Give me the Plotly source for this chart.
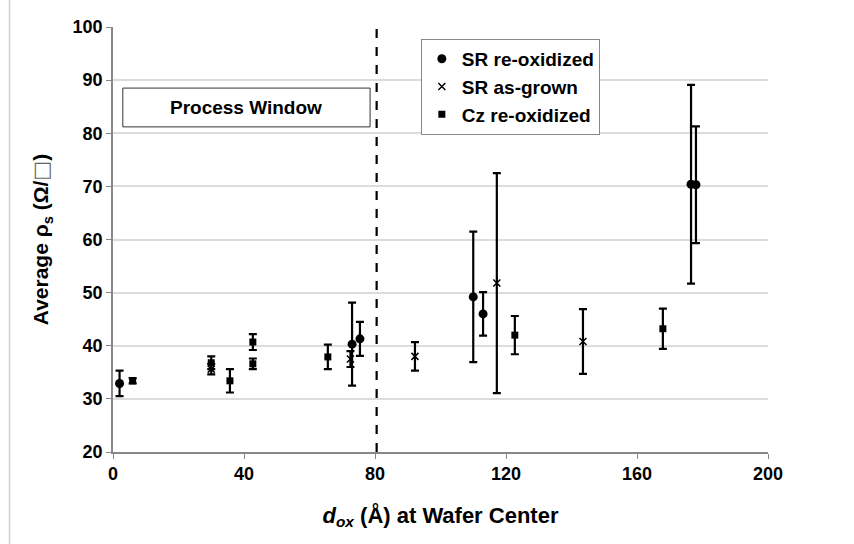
import plotly.graph_objects as go

# SR re-oxidized
sr_re_x = [2, 73, 75.4, 110, 113, 176.5, 178]
sr_re_y = [32.9, 40.3, 41.3, 49.2, 46.0, 70.4, 70.3]
sr_re_e = [2.4, 7.8, 3.2, 12.3, 4.1, 18.7, 11.0]

# SR as-grown
sr_ag_x = [30, 72.5, 92.2, 117.2, 143.5]
sr_ag_y = [35.6, 37.5, 38.0, 51.8, 40.8]
sr_ag_e = [1.0, 1.5, 2.7, 20.7, 6.1]

# Cz re-oxidized
cz_x = [6, 30, 35.7, 42.7, 42.7, 65.6, 122.7, 167.9]
cz_y = [33.4, 36.8, 33.4, 40.7, 36.6, 37.9, 42.0, 43.2]
cz_e = [0.5, 1.2, 2.2, 1.5, 1.0, 2.3, 3.6, 3.8]

x_ticks = [0, 40, 80, 120, 160, 200]
y_ticks = [20, 30, 40, 50, 60, 70, 80, 90, 100]
process_window_x = 80.5

FONT = "Liberation Sans, Arial, sans-serif"

def err(vals, w=4):
    return dict(type="data", array=vals, visible=True, color="black", thickness=2.2, width=w)

fig = go.Figure()
fig.add_trace(go.Scatter(x=sr_re_x, y=sr_re_y, mode="markers", name="<b>SR re-oxidized</b>",
                         marker=dict(symbol="circle", size=9, color="black"),
                         error_y=err(sr_re_e)))
fig.add_trace(go.Scatter(x=sr_ag_x, y=sr_ag_y, mode="markers", name="<b>SR as-grown</b>",
                         marker=dict(symbol="x-thin", size=7, color="black",
                                     line=dict(color="black", width=1.5)),
                         error_y=err(sr_ag_e)))
fig.add_trace(go.Scatter(x=cz_x, y=cz_y, mode="markers", name="<b>Cz re-oxidized</b>",
                         marker=dict(symbol="square", size=7, color="black"),
                         error_y=err(cz_e)))

# dashed process window boundary
fig.add_shape(type="line", xref="x", yref="y", x0=process_window_x, x1=process_window_x,
              y0=20, y1=100, line=dict(color="black", width=2.2, dash="dash"))

# Process Window box
fig.add_shape(type="rect", xref="x", yref="y", x0=3, x1=78.5, y0=81.2, y1=88.5,
              line=dict(color="#333", width=1), fillcolor="white")
fig.add_annotation(x=(3 + 78.5) / 2, y=(81.2 + 88.5) / 2, xref="x", yref="y",
                   text="<b>Process Window</b>", showarrow=False,
                   font=dict(family=FONT, size=19, color="black"))

# faint outer chart border on left
fig.add_shape(type="line", xref="paper", yref="paper", x0=-0.158, x1=-0.158, y0=-0.22, y1=1.07,
              line=dict(color="#d0d0d0", width=1.5))

fig.update_layout(
    width=854, height=544,
    margin=dict(l=113, r=86, t=27, b=92),
    plot_bgcolor="white", paper_bgcolor="white",
    font=dict(family=FONT, size=16, color="black"),
    showlegend=True,
    legend=dict(x=0.47, y=0.972, xanchor="left", yanchor="top",
                bordercolor="#888", borderwidth=1, bgcolor="white",
                font=dict(family=FONT, size=19, color="black"),
                itemwidth=30, tracegroupgap=0,
                title=dict(text="")),
    xaxis=dict(range=[0, 200], tickvals=x_ticks, ticktext=[f"<b>{v}</b>" for v in x_ticks],
               showgrid=False, zeroline=False, showline=True, linecolor="#888", linewidth=1.5,
               ticks="outside", ticklen=5, tickcolor="#888",
               tickfont=dict(family=FONT, size=18, color="black"),
               title=dict(text="<b><i>d</i><sub><i>ox</i></sub> (Å) at Wafer Center</b>",
                          font=dict(family=FONT, size=22, color="black"), standoff=24)),
    yaxis=dict(range=[20, 100], tickvals=y_ticks, ticktext=[f"<b>{v}</b>" for v in y_ticks],
               showgrid=True, gridcolor="#dcdcdc", gridwidth=1.5, zeroline=False,
               showline=True, linecolor="#888", linewidth=1.5,
               ticks="outside", ticklen=5, tickcolor="#888",
               tickfont=dict(family=FONT, size=18, color="black"),
               title=dict(text="<b>Average ρ<sub>s</sub> (Ω/<span style='font-family:DejaVu Sans;color:#666'>□</span>)</b>",
                          font=dict(family=FONT, size=21, color="black"), standoff=18)),
)

fig.write_html("out.html")
